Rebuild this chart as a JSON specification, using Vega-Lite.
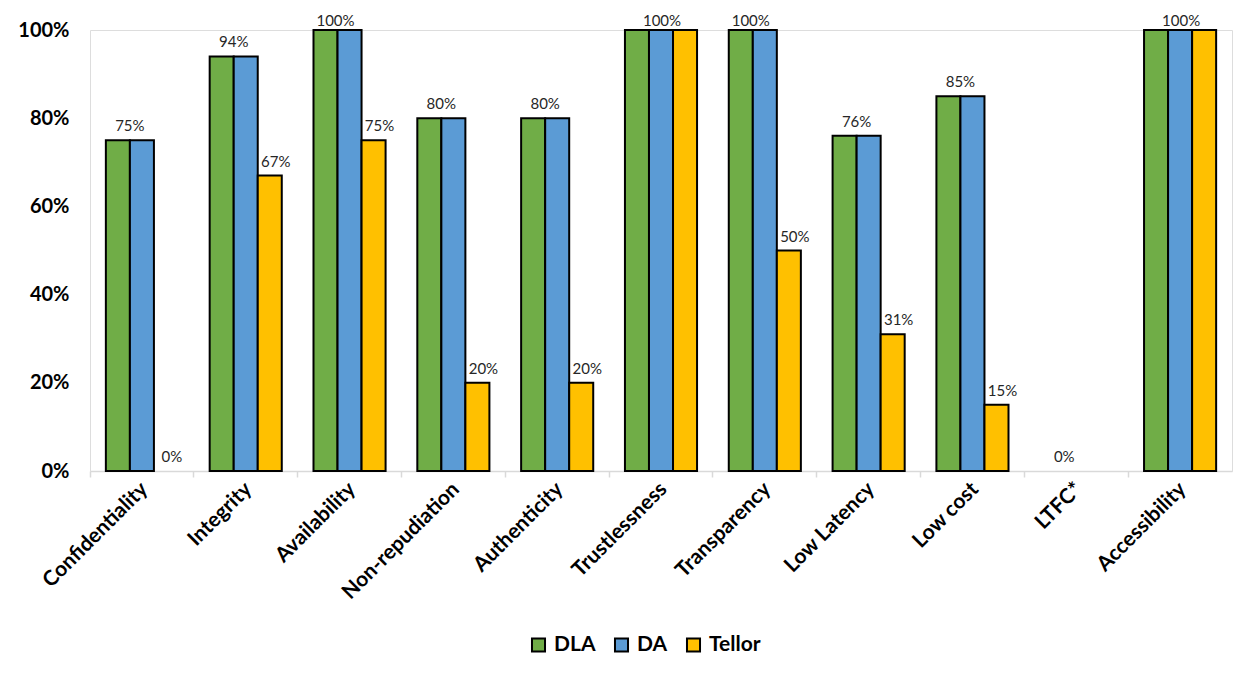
{
  "$schema": "https://vega.github.io/schema/vega-lite/v6.json",
  "autosize": {"type": "none"},
  "width": 1142,
  "height": 441,
  "padding": {"left": 90, "top": 30, "right": 21, "bottom": 202},
  "background": "white",
  "datasets": {
    "bars": [
      {"category": "Confidentiality", "series": "DLA", "value": 0.75},
      {"category": "Confidentiality", "series": "DA", "value": 0.75},
      {"category": "Confidentiality", "series": "Tellor", "value": 0},
      {"category": "Integrity", "series": "DLA", "value": 0.94},
      {"category": "Integrity", "series": "DA", "value": 0.94},
      {"category": "Integrity", "series": "Tellor", "value": 0.67},
      {"category": "Availability", "series": "DLA", "value": 1.0},
      {"category": "Availability", "series": "DA", "value": 1.0},
      {"category": "Availability", "series": "Tellor", "value": 0.75},
      {"category": "Non-repudiation", "series": "DLA", "value": 0.8},
      {"category": "Non-repudiation", "series": "DA", "value": 0.8},
      {"category": "Non-repudiation", "series": "Tellor", "value": 0.2},
      {"category": "Authenticity", "series": "DLA", "value": 0.8},
      {"category": "Authenticity", "series": "DA", "value": 0.8},
      {"category": "Authenticity", "series": "Tellor", "value": 0.2},
      {"category": "Trustlessness", "series": "DLA", "value": 1.0},
      {"category": "Trustlessness", "series": "DA", "value": 1.0},
      {"category": "Trustlessness", "series": "Tellor", "value": 1.0},
      {"category": "Transparency", "series": "DLA", "value": 1.0},
      {"category": "Transparency", "series": "DA", "value": 1.0},
      {"category": "Transparency", "series": "Tellor", "value": 0.5},
      {"category": "Low Latency", "series": "DLA", "value": 0.76},
      {"category": "Low Latency", "series": "DA", "value": 0.76},
      {"category": "Low Latency", "series": "Tellor", "value": 0.31},
      {"category": "Low cost", "series": "DLA", "value": 0.85},
      {"category": "Low cost", "series": "DA", "value": 0.85},
      {"category": "Low cost", "series": "Tellor", "value": 0.15},
      {"category": "LTFC*", "series": "DLA", "value": 0},
      {"category": "LTFC*", "series": "DA", "value": 0},
      {"category": "LTFC*", "series": "Tellor", "value": 0},
      {"category": "Accessibility", "series": "DLA", "value": 1.0},
      {"category": "Accessibility", "series": "DA", "value": 1.0},
      {"category": "Accessibility", "series": "Tellor", "value": 1.0}
    ],
    "labels": [
      {"category": "Confidentiality", "series": "DLA", "value": 0.75},
      {"category": "Confidentiality", "series": "Tellor", "value": 0},
      {"category": "Integrity", "series": "DLA", "value": 0.94},
      {"category": "Integrity", "series": "Tellor", "value": 0.67},
      {"category": "Availability", "series": "DLA", "value": 1.0},
      {"category": "Availability", "series": "Tellor", "value": 0.75},
      {"category": "Non-repudiation", "series": "DLA", "value": 0.8},
      {"category": "Non-repudiation", "series": "Tellor", "value": 0.2},
      {"category": "Authenticity", "series": "DLA", "value": 0.8},
      {"category": "Authenticity", "series": "Tellor", "value": 0.2},
      {"category": "Trustlessness", "series": "DA", "value": 1.0},
      {"category": "Transparency", "series": "DLA", "value": 1.0},
      {"category": "Transparency", "series": "Tellor", "value": 0.5},
      {"category": "Low Latency", "series": "DLA", "value": 0.76},
      {"category": "Low Latency", "series": "Tellor", "value": 0.31},
      {"category": "Low cost", "series": "DLA", "value": 0.85},
      {"category": "Low cost", "series": "Tellor", "value": 0.15},
      {"category": "LTFC*", "series": "DLA", "value": 0},
      {"category": "Accessibility", "series": "DA", "value": 1.0}
    ]
  },
  "encoding": {
    "x": {
      "field": "category",
      "type": "nominal",
      "sort": ["Confidentiality", "Integrity", "Availability", "Non-repudiation", "Authenticity", "Trustlessness", "Transparency", "Low Latency", "Low cost", "LTFC*", "Accessibility"],
      "scale": {"domain": ["Confidentiality", "Integrity", "Availability", "Non-repudiation", "Authenticity", "Trustlessness", "Transparency", "Low Latency", "Low cost", "LTFC*", "Accessibility"], "paddingInner": 0, "paddingOuter": 0},
      "axis": {
        "title": null,
        "labelAngle": -45,
        "labelFont": "Lato",
        "labelFontWeight": "bold",
        "labelFontSize": 21,
        "labelColor": "black",
        "labelPadding": 1,
        "labelOffset": -5,
        "bandPosition": 0,
        "domainColor": "#d9d9d9",
        "domainWidth": 1.5,
        "tickColor": "#d9d9d9",
        "tickWidth": 1.5,
        "tickSize": 6
      }
    },
    "xOffset": {
      "field": "series",
      "type": "nominal",
      "sort": ["DLA", "DA", "Tellor"],
      "scale": {"domain": ["DLA", "DA", "Tellor"], "paddingInner": 0, "paddingOuter": 0.66}
    },
    "y": {
      "field": "value",
      "type": "quantitative",
      "scale": {"domain": [0, 1], "nice": false},
      "axis": {
        "title": null,
        "values": [0, 0.2, 0.4, 0.6, 0.8, 1.0],
        "format": ".0%",
        "grid": false,
        "domain": false,
        "ticks": false,
        "labelFont": "Lato",
        "labelFontWeight": "bold",
        "labelFontSize": 20,
        "labelColor": "black",
        "labelPadding": 21
      }
    }
  },
  "layer": [
    {
      "data": {"name": "bars"},
      "transform": [{"filter": "datum.value > 0"}],
      "mark": {"type": "bar", "stroke": "black", "strokeWidth": 2},
      "encoding": {
        "color": {
          "field": "series",
          "type": "nominal",
          "sort": ["DLA", "DA", "Tellor"],
          "scale": {"domain": ["DLA", "DA", "Tellor"], "range": ["#70AD47", "#5B9BD5", "#FFC000"]},
          "legend": {
            "title": null,
            "orient": "none",
            "direction": "horizontal",
            "legendX": 438,
            "legendY": 604,
            "padding": 0,
            "symbolType": "square",
            "symbolSize": 170,
            "symbolStrokeColor": "black",
            "symbolStrokeWidth": 2,
            "symbolOpacity": 1,
            "labelFont": "Lato",
            "labelFontWeight": "bold",
            "labelFontSize": 21,
            "labelColor": "black",
            "columnPadding": 14,
            "labelOffset": 5
          }
        }
      }
    },
    {
      "data": {"name": "labels"},
      "transform": [{"filter": "datum.series == 'DLA' && datum.value < 1"}],
      "mark": {"type": "text", "baseline": "bottom", "dy": -6, "dx": 12, "font": "Lato", "fontSize": 15, "color": "#262626"},
      "encoding": {
        "text": {"field": "value", "type": "quantitative", "format": ".0%"}
      }
    },
    {
      "data": {"name": "labels"},
      "transform": [{"filter": "datum.series != 'DLA' && datum.value < 1"}],
      "mark": {"type": "text", "baseline": "bottom", "dy": -6, "dx": 6, "font": "Lato", "fontSize": 15, "color": "#262626"},
      "encoding": {
        "text": {"field": "value", "type": "quantitative", "format": ".0%"}
      }
    },
    {
      "data": {"name": "labels"},
      "transform": [{"filter": "datum.series == 'DLA' && datum.value >= 1"}],
      "mark": {"type": "text", "baseline": "bottom", "dy": -1, "dx": 10, "font": "Lato", "fontSize": 15, "color": "#262626"},
      "encoding": {
        "text": {"field": "value", "type": "quantitative", "format": ".0%"}
      }
    },
    {
      "data": {"name": "labels"},
      "transform": [{"filter": "datum.series == 'DA' && datum.value >= 1"}],
      "mark": {"type": "text", "baseline": "bottom", "dy": -1, "dx": 1, "font": "Lato", "fontSize": 15, "color": "#262626"},
      "encoding": {
        "text": {"field": "value", "type": "quantitative", "format": ".0%"}
      }
    }
  ]
}
